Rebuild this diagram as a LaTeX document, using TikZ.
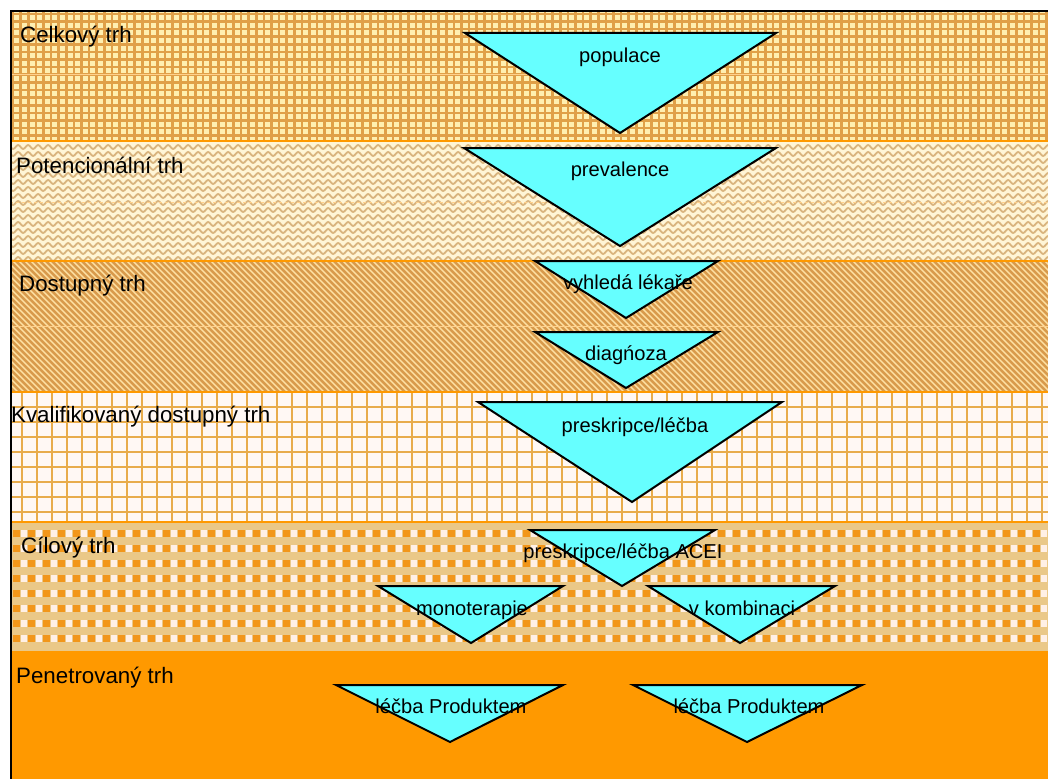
\documentclass[tikz,border=0pt]{standalone}
\usepackage{fontspec}
\setmainfont{Liberation Sans}
\usetikzlibrary{decorations.pathmorphing}

\definecolor{funnelcyan}{HTML}{66FFFF}
\definecolor{sepline}{HTML}{FF9900}
\definecolor{gridAbg}{HTML}{FFEFB0}
\definecolor{gridAline}{HTML}{E0A048}
\definecolor{waveBbg}{HTML}{FFF5D6}
\definecolor{waveBline}{HTML}{D9B47E}
\definecolor{stripeCbg}{HTML}{F0BE6C}
\definecolor{stripeCdark}{HTML}{D89A4C}
\definecolor{stripeClight}{HTML}{FCE0A6}
\definecolor{gridDbg}{HTML}{FFF8F4}
\definecolor{gridDline}{HTML}{E8AC4C}
\definecolor{checkEbg}{HTML}{EAC888}
\definecolor{checkEdark}{HTML}{F2961A}
\definecolor{checkElight}{HTML}{FFF0E6}
\definecolor{solidF}{HTML}{FF9900}

\tikzset{
  funnel/.style={fill=funnelcyan, draw=black, line width=2bp, line join=miter},
  tritext/.style={font=\fontsize{20.2}{24}\selectfont, anchor=base, inner sep=0pt},
  bandlabel/.style={font=\fontsize{22.4}{26}\selectfont, anchor=base west, inner sep=0pt},
  separator/.style={draw=sepline, line width=2.5bp},
  faintline/.style={draw=sepline!45, line width=1bp}
}

\begin{document}
\begin{tikzpicture}[x=1bp, y=-1bp]
\useasboundingbox (0,0) rectangle (1048,779);
\fill[white] (0,0) rectangle (1048,779);

% --- Celkový trh: fine square grid
\begin{scope}
  \clip (10,11) rectangle (1048,141);
  \fill[gridAbg] (10,11) rectangle (1048,141);
  \foreach \x in {13,20.6,...,1050} \draw[gridAline, line width=2.6bp] (\x,11) -- (\x,141);
  \foreach \y in {14,21.6,...,141} \draw[gridAline, line width=2.6bp] (10,\y) -- (1048,\y);
\end{scope}

% --- Potencionální trh: wavy lines
\begin{scope}
  \clip (10,141) rectangle (1048,261);
  \fill[waveBbg] (10,141) rectangle (1048,261);
  \foreach \y in {147,154,...,262}
    \draw[waveBline, line width=1.8bp, decorate,
          decoration={snake, segment length=10bp, amplitude=2bp}] (5,\y) -- (1055,\y);
\end{scope}

% --- Dostupný trh: diagonal stripes
\begin{scope}
  \clip (10,261) rectangle (1048,392);
  \fill[stripeCbg] (10,261) rectangle (1048,392);
  \foreach \c in {-140,-134,...,1050} {
    \draw[stripeCdark, line width=2.2bp] (\c,261) -- (\c+131,392);
    \draw[stripeClight, line width=1.2bp] (\c+3,261) -- (\c+134,392);
  }
\end{scope}

% --- Kvalifikovaný dostupný trh: open grid
\begin{scope}
  \clip (10,392) rectangle (1048,522);
  \fill[gridDbg] (10,392) rectangle (1048,522);
  \foreach \x in {22,37,...,1050} \draw[gridDline, line width=2.6bp] (\x,392) -- (\x,522);
  \foreach \y in {407,422,...,522} \draw[gridDline, line width=2.6bp] (10,\y) -- (1048,\y);
\end{scope}

% --- Cílový trh: rows of small checks
\begin{scope}
  \clip (10,522) rectangle (1048,652);
  \fill[checkEbg] (10,522) rectangle (1048,652);
  \foreach \r in {0,...,7}
    \foreach \k in {0,...,69} {
      \fill[checkEdark]  ({13+\k*15},{530+\r*15}) rectangle +(6.5,7);
      \fill[checkElight] ({20.5+\k*15},{530+\r*15}) rectangle +(6,7);
    }
\end{scope}

% --- Penetrovaný trh: solid
\fill[solidF] (10,652) rectangle (1048,779);

% band separators and faint inner rules
\draw[faintline] (10,75) -- (1048,75);
\draw[faintline, dashed] (10,202) -- (1048,202);
\draw[faintline] (10,326) -- (1048,326);
\foreach \y in {141,261,392,522,652} \draw[separator] (10,\y) -- (1048,\y);

% frame
\draw[black, line width=1.2bp] (10,11) -- (1048,11);
\draw[black, line width=2bp] (10.5,11) -- (10.5,779);

% band labels
\node[bandlabel] (lab1) at (20,43)  {Celkový trh};
\node[bandlabel] (lab2) at (16,173) {Potencionální trh};
\node[bandlabel] (lab3) at (19,291) {Dostupný trh};
\node[bandlabel] (lab4) at (11,422) {Kvalifikovaný dostupný trh};
\node[bandlabel] (lab5) at (21,553) {Cílový trh};
\node[bandlabel] (lab6) at (16,683) {Penetrovaný trh};

% funnel triangles
\filldraw[funnel] (465,33)  -- (776,33)  -- (620,133) -- cycle;
\filldraw[funnel] (464,148) -- (776,148) -- (620,246) -- cycle;
\filldraw[funnel] (535,261) -- (718,261) -- (626,318) -- cycle;
\filldraw[funnel] (535,332) -- (718,332) -- (626,388) -- cycle;
\filldraw[funnel] (478,402) -- (782,402) -- (632,502) -- cycle;
\filldraw[funnel] (530,530) -- (715,530) -- (622,586) -- cycle;
\filldraw[funnel] (378,586) -- (563,586) -- (471,643) -- cycle;
\filldraw[funnel] (648,586) -- (835,586) -- (740,643) -- cycle;
\filldraw[funnel] (336,685) -- (563,685) -- (450,742) -- cycle;
\filldraw[funnel] (633,685) -- (862,685) -- (747,742) -- cycle;

% funnel texts
\node[tritext] (t1)  at (620,63)  {populace};
\node[tritext] (t2)  at (620,176) {prevalence};
\node[tritext] (t3)  at (628,289) {vyhledá lékaře};
\node[tritext] (t4)  at (626,360) {diagńoza};
\node[tritext] (t5)  at (635,432) {preskripce/léčba};
\node[tritext] (t6)  at (623,558) {preskripce/léčba ACEI};
\node[tritext] (t7)  at (472,615) {monoterapie};
\node[tritext] (t8)  at (742,615) {v kombinaci};
\node[tritext] (t9)  at (451,713) {léčba Produktem};
\node[tritext] (t10) at (749,713) {léčba Produktem};
\end{tikzpicture}
\end{document}
